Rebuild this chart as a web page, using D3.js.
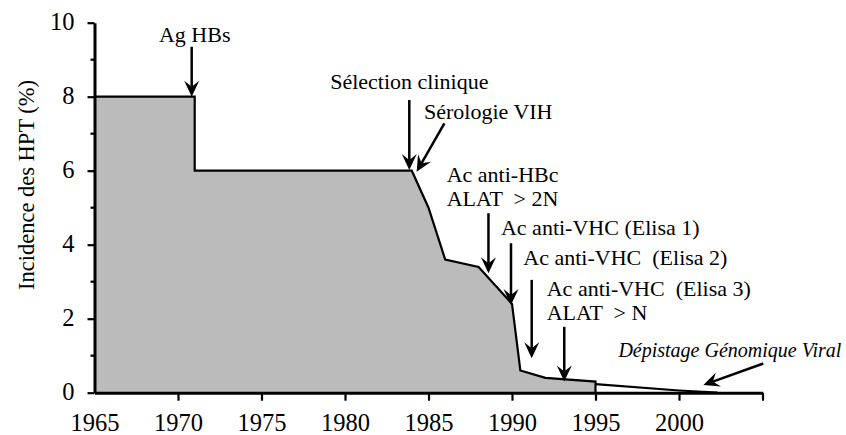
<!DOCTYPE html>
<html><head><meta charset="utf-8">
<script src="https://cdn.jsdelivr.net/npm/d3@7"></script>
<style>
html,body{margin:0;padding:0;background:#fff;}
svg{display:block;}
text{font-family:"Liberation Serif","DejaVu Serif",serif;fill:#000;white-space:pre;}
</style></head>
<body>
<svg id="chart" width="846" height="435"></svg>
<script>
// ---- data ----
const years  = [1965, 1971, 1971, 1984, 1985, 1986, 1988, 1990, 1990.5, 1992, 1995];
const values = [8,    8,    6,    6,    5,    3.6,  3.4,  2.4,  0.6,    0.4,  0.3];
const tailYears  = [1995, 2000, 2002.3];
const tailValues = [0.23, 0.06, 0];
const xTicks = [1965, 1970, 1975, 1980, 1985, 1990, 1995, 2000, 2005];
const xTickLabels = ["1965", "1970", "1975", "1980", "1985", "1990", "1995", "2000", ""];
const yTicks = [0, 2, 4, 6, 8, 10];
const yMinorTicks = [1, 3, 5, 7, 9];
const yLabel = "Incidence des HPT (%)";

// annotations: label lines, label anchor (year, value), arrow from (year,value) to tip (year,value)
const annLines   = [["Ag HBs"], ["Sélection clinique"], ["Sérologie VIH"], ["Ac anti-HBc", "ALAT  > 2N"],
                    ["Ac anti-VHC (Elisa 1)"], ["Ac anti-VHC  (Elisa 2)"], ["Ac anti-VHC  (Elisa 3)", "ALAT  > N"],
                    ["Dépistage Génomique Viral"]];
const annAnchor  = ["middle", "middle", "start", "start", "start", "start", "start", "start"];
const annItalic  = [false, false, false, false, false, false, false, true];
const annTextX   = [1971.0, 1983.85, 1984.73, 1986.09, 1989.34, 1990.68, 1992.08, 1996.37];
const annTextY   = [9.49, 8.2, 7.41, 5.70, 4.26, 3.45, 2.62, 0.97];
const annFromX   = [1970.82, 1983.85, 1985.95, 1988.59, 1989.94, 1991.18, 1993.13, 2005.05];
const annFromY   = [9.35, 7.91, 7.28, 4.85, 4.04, 3.05, 1.78, 0.79];
const annToX     = [1970.82, 1983.85, 1984.29, 1988.59, 1989.94, 1991.18, 1993.13, 2001.46];
const annToY     = [8.0, 6.02, 5.97, 3.23, 2.37, 0.93, 0.30, 0.21];

// ---- layout ----
const svg = d3.select("#chart");
const x = d3.scaleLinear().domain([1965, 2005]).range([94.5, 762.5]);
const y = d3.scaleLinear().domain([0, 10]).range([392.7, 22.7]);
const serif = '"Liberation Serif","DejaVu Serif",serif';

const pts = years.map((d, i) => [d, values[i]]);
// area
svg.append("path")
  .datum(pts)
  .attr("d", d3.area().x(d => x(d[0])).y0(y(0)).y1(d => y(d[1])))
  .attr("fill", "#bbbbbb");
// outline
svg.append("path")
  .datum(pts.concat([[years[years.length - 1], 0]]))
  .attr("d", d3.line().x(d => x(d[0])).y(d => y(d[1])))
  .attr("fill", "none").attr("stroke", "#000").attr("stroke-width", 2.2).attr("stroke-linejoin", "miter");
// tail
svg.append("path")
  .datum(tailYears.map((d, i) => [d, tailValues[i]]))
  .attr("d", d3.line().x(d => x(d[0])).y(d => y(d[1])))
  .attr("fill", "none").attr("stroke", "#000").attr("stroke-width", 2.2);

// x axis
const gx = svg.append("g").attr("transform", `translate(0,${y(0)})`)
  .call(d3.axisBottom(x).tickValues(xTicks).tickSize(8).tickSizeOuter(0)
    .tickFormat((d, i) => xTickLabels[i]));
gx.attr("font-family", serif);
gx.select(".domain").attr("stroke-width", 3);
gx.selectAll(".tick line").attr("stroke-width", 2.2).filter(d => d === 1965).remove();
gx.selectAll(".tick text").attr("font-family", serif).attr("font-size", 24.5).attr("dy", null).attr("y", 38.5);

// y axis
const gy = svg.append("g").attr("transform", `translate(${x(1965)},0)`)
  .call(d3.axisLeft(y).tickValues(yTicks).tickSize(7).tickSizeOuter(0).tickFormat(d3.format("d")));
gy.attr("font-family", serif);
gy.select(".domain").attr("stroke-width", 3);
gy.selectAll(".tick line").attr("stroke-width", 2.2);
gy.selectAll(".tick text").attr("font-family", serif).attr("font-size", 24.5)
  .attr("dy", null).attr("x", -20).attr("y", 6.5);
gy.selectAll(".minor").data(yMinorTicks).enter().append("line")
  .attr("class", "minor").attr("x1", -4).attr("x2", 0)
  .attr("y1", d => y(d)).attr("y2", d => y(d))
  .attr("stroke", "#000").attr("stroke-width", 2.2);
svg.selectAll(".domain").attr("stroke", "#000");
svg.selectAll(".tick line").attr("stroke", "#000");

// y label
svg.append("text").attr("transform", `translate(34,${185}) rotate(-90)`)
  .attr("text-anchor", "middle").attr("font-size", 22.5).text(yLabel);

// annotations
const head = "M0,0 L-16,-7.5 L-10,0 L-16,7.5 Z";
annLines.forEach((lines, i) => {
  const fs = annItalic[i] ? 20 : 22;
  lines.forEach((l, j) => {
    svg.append("text")
      .attr("x", x(annTextX[i])).attr("y", y(annTextY[i]) + j * 24.5)
      .attr("text-anchor", annAnchor[i])
      .attr("font-size", fs)
      .attr("font-style", annItalic[i] ? "italic" : "normal")
      .text(l);
  });
  const x1 = x(annFromX[i]), y1 = y(annFromY[i]), x2 = x(annToX[i]), y2 = y(annToY[i]);
  const ang = Math.atan2(y2 - y1, x2 - x1);
  const len = Math.hypot(x2 - x1, y2 - y1);
  const g = svg.append("g").attr("transform", `translate(${x1},${y1}) rotate(${ang * 180 / Math.PI})`);
  g.append("line").attr("x1", 0).attr("y1", 0).attr("x2", len - 10).attr("y2", 0)
    .attr("stroke", "#000").attr("stroke-width", 2.5);
  g.append("path").attr("d", head).attr("transform", `translate(${len},0)`).attr("fill", "#000");
});
</script>
</body></html>
